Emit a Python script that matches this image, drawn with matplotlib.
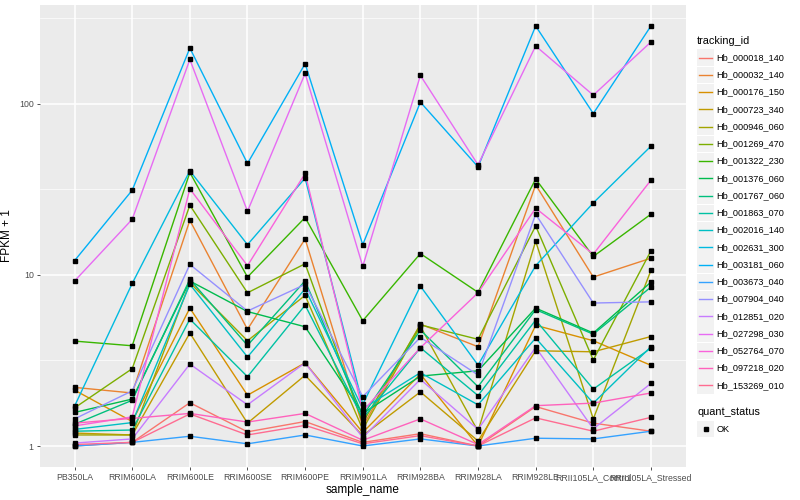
import numpy as np
import matplotlib
matplotlib.use('Agg')
import matplotlib.pyplot as plt
from matplotlib.lines import Line2D
from matplotlib.patches import Rectangle

plt.rcParams['font.family'] = ['Liberation Sans', 'DejaVu Sans']

samples = ['PB350LA', 'RRIM600LA', 'RRIM600LE', 'RRIM600SE', 'RRIM600PE', 'RRIM901LA',
           'RRIM928BA', 'RRIM928LA', 'RRIM928LE', 'RRII105LA_Control', 'RRII105LA_Stressed']

genes = ['Hb_000018_140', 'Hb_000032_140', 'Hb_000176_150', 'Hb_000723_340', 'Hb_000946_060',
         'Hb_001269_470', 'Hb_001322_230', 'Hb_001376_060', 'Hb_001767_060', 'Hb_001863_070',
         'Hb_002016_140', 'Hb_002631_300', 'Hb_003181_060', 'Hb_003673_040', 'Hb_007904_040',
         'Hb_012851_020', 'Hb_027298_030', 'Hb_052764_070', 'Hb_097218_020', 'Hb_153269_010']

# FPKM + 1, one row per gene, one column per sample
fpkm = [
    [1.00, 1.05, 1.79, 1.21, 1.39, 1.05, 1.18, 1.00, 1.70, 1.36, 1.22],
    [2.20, 2.04, 20.8, 4.80, 16.2, 1.30, 5.15, 3.80, 33.5, 9.70, 12.5],
    [2.12, 1.39, 6.39, 1.98, 3.06, 1.20, 2.63, 1.00, 5.07, 4.12, 2.96],
    [1.19, 1.16, 4.57, 1.36, 2.59, 1.15, 2.07, 1.07, 3.60, 3.55, 4.36],
    [1.16, 1.16, 9.00, 4.12, 7.58, 1.25, 5.00, 1.22, 15.7, 1.44, 10.6],
    [1.67, 2.83, 25.5, 7.85, 11.6, 1.37, 5.10, 4.20, 19.3, 3.18, 13.8],
    [4.10, 3.85, 39.6, 9.70, 21.6, 5.39, 13.3, 7.90, 36.3, 12.8, 22.6],
    [1.57, 1.88, 9.20, 6.10, 4.97, 1.55, 2.56, 2.75, 6.39, 4.57, 9.06],
    [1.34, 1.85, 9.40, 3.87, 9.22, 1.50, 4.76, 2.22, 6.26, 4.50, 8.48],
    [1.22, 1.24, 5.51, 2.54, 6.65, 1.45, 3.75, 1.97, 5.44, 2.15, 3.73],
    [1.25, 1.37, 8.80, 3.31, 8.28, 1.65, 2.68, 1.74, 4.27, 1.78, 3.80],
    [1.71, 8.90, 40.5, 15.0, 36.7, 1.75, 8.59, 2.97, 11.3, 26.3, 56.4],
    [12.1, 31.2, 211, 44.7, 171, 15.0, 102, 42.7, 284, 87.5, 284],
    [1.00, 1.05, 1.14, 1.03, 1.16, 1.00, 1.10, 1.00, 1.11, 1.10, 1.22],
    [1.44, 2.10, 11.5, 6.14, 8.79, 1.94, 4.31, 2.60, 22.6, 6.84, 6.95],
    [1.04, 1.10, 3.01, 1.74, 3.06, 1.12, 2.45, 1.25, 3.77, 1.26, 2.32],
    [9.20, 21.1, 181, 23.5, 150, 11.2, 146, 43.9, 217, 112, 229],
    [1.31, 1.48, 31.8, 11.3, 39.1, 1.60, 3.75, 7.85, 24.5, 13.2, 35.7],
    [1.36, 1.45, 1.55, 1.38, 1.55, 1.08, 1.44, 1.02, 1.72, 1.78, 2.04],
    [1.02, 1.05, 1.54, 1.16, 1.32, 1.03, 1.15, 1.00, 1.46, 1.22, 1.47],
]

colors = ['#F8766D', '#EA8331', '#D89000', '#C09B00', '#A3A500', '#7CAE00', '#39B600',
          '#00BB4E', '#00BF7D', '#00C1A3', '#00BFC4', '#00BAE0', '#00B0F6', '#35A2FF',
          '#9590FF', '#C77CFF', '#E76BF3', '#FA62DB', '#FF62BC', '#FF6C91']

W, H = 800, 500
fig = plt.figure(figsize=(8, 5), dpi=100)
ax = fig.add_axes([40 / W, 1 - 467 / H, (685.5 - 40) / W, (467 - 5) / H])
ax.set_facecolor('#EBEBEB')

x = np.arange(len(samples))
for g, c, vals in zip(genes, colors, fpkm):
    ax.plot(x, vals, color=c, lw=1.0, zorder=3)
for vals in fpkm:
    ax.plot(x, vals, ls='none', marker='s', ms=2.6, color='black', zorder=4)

ax.set_yscale('log')
lo, hi = np.log10(np.min(fpkm)), np.log10(np.max(fpkm))
pad = (hi - lo) * 0.05
ax.set_ylim(10 ** (lo - pad), 10 ** (hi + pad))
ax.set_xlim(-0.6, len(samples) - 0.4)

ax.set_yticks([1, 10, 100])
ax.set_yticklabels(['1', '10', '100'])
ax.set_yticks([10 ** 0.5, 10 ** 1.5, 10 ** 2.5], minor=True)
ax.yaxis.set_minor_formatter(plt.NullFormatter())
ax.set_xticks(x)
ax.set_xticklabels(samples)

ax.grid(True, which='major', color='white', lw=1.1)
ax.grid(True, which='minor', axis='y', color='white', lw=0.5)
ax.set_axisbelow(True)
for s in ax.spines.values():
    s.set_visible(False)
ax.tick_params(axis='both', which='major', length=2.5, width=0.6, color='#333333',
               labelcolor='#4D4D4D', labelsize=6.3, pad=2)
ax.tick_params(axis='y', which='minor', length=0)
ax.set_xlabel('sample_name', fontsize=8.5, labelpad=1)
ax.set_ylabel('FPKM + 1', fontsize=8.5, labelpad=4)

# legend, ggplot style
def fx(px):
    return px / W

def fy(py):
    return 1 - py / H

fig.text(fx(697), fy(40.7), 'tracking_id', fontsize=7.8, va='center', ha='left')
for i, (g, c) in enumerate(zip(genes, colors)):
    yc = 57.7 + 17.25 * i
    fig.patches.append(Rectangle((fx(697), fy(yc + 8.3)), 17 / W, 16.6 / H,
                                 transform=fig.transFigure, facecolor='#F2F2F2',
                                 edgecolor='none'))
    fig.lines.append(Line2D([fx(699), fx(712)], [fy(yc), fy(yc)], color=c, lw=1.0,
                            transform=fig.transFigure))
    fig.text(fx(716.5), fy(yc), g, fontsize=6.6, va='center', ha='left')

fig.text(fx(697), fy(412.3), 'quant_status', fontsize=7.8, va='center', ha='left')
fig.patches.append(Rectangle((fx(697), fy(429 + 8.3)), 17 / W, 16.6 / H,
                             transform=fig.transFigure, facecolor='#F2F2F2', edgecolor='none'))
fig.lines.append(Line2D([fx(705.5)], [fy(429)], marker='s', ms=2.6, color='black',
                        ls='none', transform=fig.transFigure))
fig.text(fx(716.5), fy(429), 'OK', fontsize=6.6, va='center', ha='left')

fig.savefig('out.png', dpi=100)
